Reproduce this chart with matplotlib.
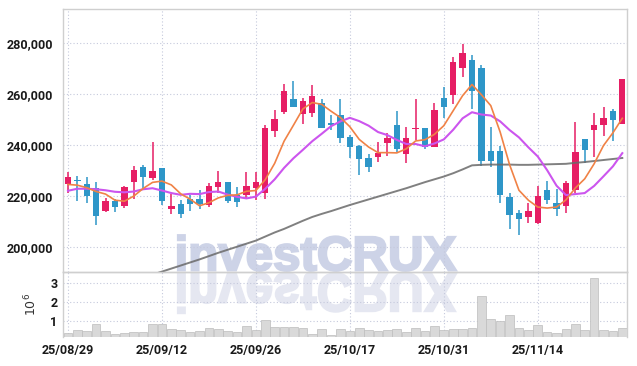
import numpy as np
import matplotlib
matplotlib.use("Agg")
import matplotlib.pyplot as plt
from matplotlib.textpath import TextPath
from matplotlib.patches import PathPatch
from matplotlib.font_manager import FontProperties
from matplotlib.transforms import Affine2D
from matplotlib.ticker import StrMethodFormatter

plt.rcParams["font.family"] = ["Roboto", "DejaVu Sans"]

# daily candles, 25/08/29 .. 25/11/27 (prices in won)
opens = [224500, 226000, 224700, 223000, 214200, 218000, 216000, 225400, 231500, 227100,
         230800, 214900, 216800, 218600, 218900, 216500, 223500, 225400, 220300, 220300,
         223200, 221200, 245600, 252900, 258100, 252100, 252500, 256600, 248500, 251800,
         243000, 239700, 235000, 235400, 240900, 247900, 236300, 246200, 246600, 239300,
         258400, 259800, 270400, 273400, 270400, 237800, 237800, 219700, 213400, 211800,
         209400, 222300, 217300, 216100, 222300, 242400, 245900, 247900, 253400, 248100]
highs = [229500, 227800, 227300, 225300, 219300, 218800, 224000, 231700, 232100, 241300,
         230800, 220700, 218400, 220300, 222300, 225200, 229900, 225600, 223400, 229300,
         229300, 247900, 253800, 263900, 265200, 258600, 263600, 258000, 251800, 258000,
         244000, 239900, 236500, 241300, 244800, 253400, 247200, 258000, 246800, 256400,
         262700, 274500, 279700, 275400, 271500, 247000, 239600, 221200, 214400, 217100,
         223900, 225800, 222600, 225800, 248900, 242400, 252500, 255100, 254200, 266000]
lows = [221200, 218000, 217100, 208400, 213800, 213800, 215100, 218600, 223000, 226200,
        216400, 212900, 211200, 214200, 214700, 215700, 221000, 217100, 215700, 218600,
        218400, 218600, 243000, 252200, 254800, 248300, 250900, 246600, 245900, 240900,
        234800, 228200, 229500, 233200, 235700, 237400, 232800, 242000, 238400, 239100,
        250500, 256100, 266900, 254200, 231700, 231200, 217100, 206800, 204600, 209400,
        208900, 216800, 212100, 213100, 221000, 232800, 235400, 243500, 241700, 248100]
closes = [227300, 225800, 220100, 212200, 218000, 215600, 223500, 230200, 227300, 229800,
          218100, 216000, 213000, 216800, 216800, 223900, 225400, 218000, 217700, 223900,
          225400, 246800, 250200, 261400, 255100, 257300, 259300, 246800, 247900, 242600,
          239300, 234500, 231500, 237000, 242900, 238400, 242900, 246800, 239300, 253800,
          255100, 272500, 276300, 261400, 233700, 233700, 220300, 212500, 210900, 214200,
          219900, 218400, 214800, 224900, 237400, 238000, 247900, 250700, 249800, 266000]

# moving average lines
ma_short = [224500, 224200, 223200, 221700, 220700, 218300, 217900, 219900, 222900, 225300,
            225800, 224300, 220800, 218700, 216100, 217300, 219200, 220200, 220400, 221800,
            222100, 226400, 232800, 241500, 247800, 254200, 256700, 256000, 253300, 250800,
            247200, 242200, 239200, 237000, 237000, 236900, 238500, 241600, 242100, 244200,
            247600, 253500, 259400, 263800, 259800, 255500, 245100, 232300, 222200, 218300,
            215600, 215200, 215600, 218400, 223100, 226700, 232600, 239800, 244800, 250500]
ma_mid = [222000, 222800, 222800, 222600, 222200, 221600, 221400, 221700, 222600, 223000,
          222100, 221100, 220400, 220800, 220700, 221500, 221700, 220500, 219600, 219000,
          219700, 222800, 226500, 231000, 234800, 238100, 241500, 244400, 247400, 249300,
          250700, 249400, 247600, 245100, 243900, 242000, 240400, 240400, 239500, 240600,
          242200, 246000, 250500, 252900, 252000, 251600, 249300, 245900, 243000, 239100,
          235500, 230100, 224000, 220300, 220700, 221100, 223900, 227700, 231600, 236800]
# long average, enters the view around 25/09/12
ma_long_start = 8
ma_long = [188000, 189000, 190200, 191400, 192600, 193800, 195000, 196300, 197600, 198800,
           200000, 201200, 202400, 204000, 205600, 207000, 208600, 210200, 211700, 212900,
           214000, 215200, 216400, 217500, 218600, 219700, 220800, 221900, 223000, 224200,
           225400, 226500, 227600, 228900, 230400, 232000, 232200, 232300, 232300, 232300,
           232200, 232200, 232300, 232400, 232500, 232600, 233000, 233300, 233700, 234100,
           234500, 234900]

# volume in millions of shares
volume_m = [0.39, 0.55, 0.51, 0.86, 0.51, 0.34, 0.39, 0.44, 0.44, 0.86,
            0.86, 0.60, 0.55, 0.46, 0.51, 0.65, 0.60, 0.51, 0.46, 0.75,
            0.55, 1.08, 0.70, 0.70, 0.70, 0.65, 0.36, 0.60, 0.30, 0.60,
            0.47, 0.65, 0.56, 0.47, 0.55, 0.60, 0.46, 0.65, 0.50, 0.76,
            0.55, 0.60, 0.60, 0.65, 2.33, 1.12, 1.03, 1.32, 0.65, 0.56,
            0.82, 0.44, 0.39, 0.60, 0.86, 0.56, 3.25, 0.56, 0.47, 0.65]

tick_idx = [0, 10, 20, 30, 40, 50]
tick_labels = ["25/08/29", "25/09/12", "25/09/26", "25/10/17", "25/10/31", "25/11/14"]
price_ticks = [200000, 220000, 240000, 260000, 280000]
vol_ticks = [1, 2, 3]

UP = "#e61e64"
DOWN = "#2e96c8"
GRID = "#c5c9dc"
SPINE = "#cfcfcf"
LABEL = "#1a1a1a"

W, H = 637, 366
fig = plt.figure(figsize=(W / 100, H / 100), dpi=100, facecolor="white")
ax = fig.add_axes([63 / W, 94 / H, 564 / W, 263 / H], facecolor="none")
axv = fig.add_axes([63 / W, 29 / H, 564 / W, 65 / H], facecolor="none", sharex=ax)

# watermark + its reflection, in pixel coords behind the axes
fp = FontProperties(family="Liberation Sans", weight="bold")
tp = TextPath((0, 0), "investCRUX", size=48, prop=fp)
ext = tp.get_extents()
sx = 278 / ext.width
sy = 35.6 / ext.height
tr = Affine2D().translate(-ext.x0, -ext.y0).scale(sx, sy).translate(178, H - 270.8)
fig.add_artist(PathPatch(tp, transform=tr, facecolor="#cdd3e7", edgecolor="#cdd3e7",
                         linewidth=1.6, zorder=-2))
tr2 = Affine2D().translate(-ext.x0, -ext.y0).scale(sx, -sy * 1.12).translate(178, H - 273.2)
fig.add_artist(PathPatch(tp, transform=tr2, facecolor="#e5e7f1", edgecolor="#e5e7f1",
                         linewidth=1.6, zorder=-2))

x = np.arange(len(closes))
o = np.array(opens)
c = np.array(closes)
up = c >= o
colors = np.where(up, UP, DOWN)

ax.vlines(x, lows, highs, colors=colors, linewidth=1.1, zorder=3)
body_lo = np.minimum(o, c)
body_h = np.maximum(np.abs(c - o), 500)
ax.bar(x, body_h, bottom=body_lo, width=0.68, color=colors, linewidth=0, zorder=4)

ax.plot(np.arange(ma_long_start, ma_long_start + len(ma_long)), ma_long,
        color="#6a6a6a", lw=1.4, alpha=0.85, zorder=5)
ax.plot(x, ma_mid, color="#cc55ee", lw=1.5, zorder=5)
ax.plot(x, ma_short, color="#f08246", lw=1.2, zorder=6)

ax.set_ylim(190050, 293500)
ax.set_xlim(-0.53, 59.5)
ax.set_yticks(price_ticks)
ax.yaxis.set_major_formatter(StrMethodFormatter("{x:,.0f}"))
ax.set_xticks(tick_idx)
ax.tick_params(axis="x", labelbottom=False, length=0)
ax.tick_params(axis="y", length=0, pad=7, labelsize=9, labelcolor=LABEL)
for lab in ax.get_yticklabels():
    lab.set_fontweight("bold")

axv.bar(x, volume_m, width=0.92, color="#d9d9d9", edgecolor="#bdbdbd", linewidth=0.5, zorder=3)
axv.set_ylim(0.18, 3.57)
axv.set_yticks(vol_ticks)
axv.set_xticks(tick_idx)
axv.set_xticklabels(tick_labels)
axv.tick_params(axis="both", length=0, labelsize=9, labelcolor=LABEL)
axv.tick_params(axis="x", pad=5)
axv.tick_params(axis="y", pad=4)
for lab in axv.get_xticklabels() + axv.get_yticklabels():
    lab.set_fontweight("bold")
axv.set_ylabel("$10^6$", fontsize=9, color="#333333", labelpad=8)

for a in (ax, axv):
    a.grid(True, color=GRID, linestyle=(0, (1, 2)), linewidth=0.8, zorder=1)
    a.set_axisbelow(True)
    for s in a.spines.values():
        s.set_color(SPINE)
        s.set_linewidth(1.0)
axv.spines["bottom"].set_visible(False)

fig.savefig("out.png", dpi=100)
